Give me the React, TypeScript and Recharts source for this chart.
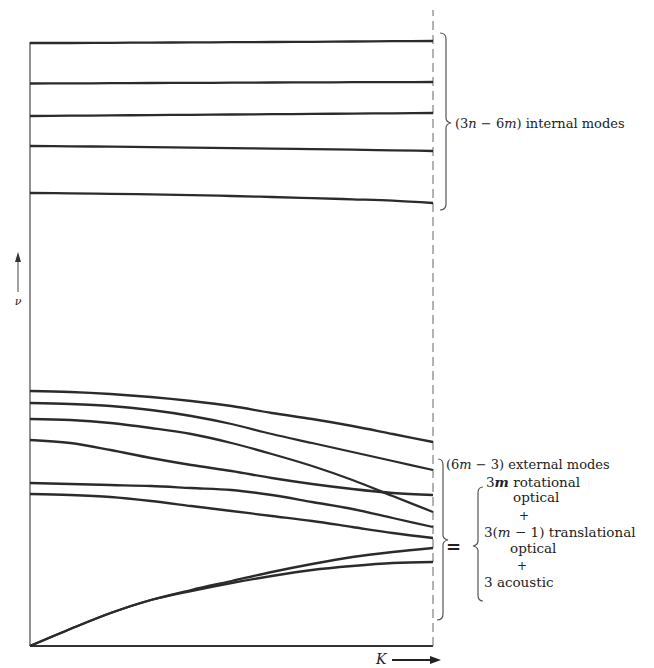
import React from 'react';
import { LineChart, Line, XAxis, YAxis, ReferenceLine } from 'recharts';

// wave vector K, from zone centre (0) to zone boundary (1)
const K = [0, 0.1, 0.2, 0.3, 0.4, 0.5, 0.6, 0.7, 0.8, 0.9, 1];

// internal modes (nearly flat)
const internal1 = [603, 603, 603.2, 603.4, 603.6, 603.8, 604, 604.2, 604.5, 604.8, 605];
const internal2 = [562.5, 562.6, 562.8, 563, 563.1, 563.3, 563.5, 563.6, 563.8, 563.9, 564];
const internal3 = [530, 530.3, 530.6, 530.9, 531.2, 531.5, 531.8, 532.1, 532.4, 532.7, 533];
const internal4 = [500, 499.7, 499.3, 498.9, 498.4, 497.9, 497.4, 496.9, 496.3, 495.7, 495];
const internal5 = [453, 452.7, 452.2, 451.6, 450.9, 450, 449, 447.9, 446.7, 445.4, 443];

// external optical modes
const optical1 = [255, 254, 252, 249, 245, 240, 233, 227, 220, 212, 204];
const optical2 = [243, 242, 240, 236, 230, 222, 212, 203, 194, 185, 176];
const optical3 = [227, 226, 223, 218, 212, 203, 192, 180, 166, 150, 134];
const optical4 = [206, 203, 196, 188, 181, 175, 168, 162, 157, 153, 151];
const optical5 = [163, 162, 161, 160, 158, 156, 151, 144, 137, 128, 119];
const optical6 = [152, 151, 149, 145, 140, 135, 130, 125, 119, 113, 108];

// acoustic branches
const acoustic1 = [0, 17, 33, 46, 56, 65, 74, 82, 89, 94, 98];
const acoustic2 = [0, 17, 33, 46, 55, 63, 70, 76, 80, 83, 84];

const series: [string, number[]][] = [
  ['i1', internal1], ['i2', internal2], ['i3', internal3], ['i4', internal4], ['i5', internal5],
  ['o1', optical1], ['o2', optical2], ['o3', optical3], ['o4', optical4], ['o5', optical5], ['o6', optical6],
  ['a1', acoustic1], ['a2', acoustic2],
];

const data = K.map((k, i) => {
  const row: Record<string, number> = { k };
  series.forEach(([key, vals]) => { row[key] = vals[i]; });
  return row;
});

const NU_MAX = 636;
const TOP_LINE = 604;

const INK = '#2b2b2b';
const serif = '"DejaVu Serif", "Liberation Serif", serif';

function Annotations() {
  return (
    <svg width={654} height={668} style={{ position: 'absolute', left: 0, top: 0, pointerEvents: 'none' }}>
      <g fill="none" stroke="#555" strokeWidth={1.2}>
        {/* brace round the internal modes */}
        <path d="M440 33 Q446 33 446 39 L446 118 Q446 122 451 123 Q446 124 446 128 L446 204 Q446 210 440 210" />
        {/* brace round the external modes */}
        <path d="M438 459 Q443 459 443 465 L443 535 Q443 539 448 540 Q443 541 443 545 L443 614 Q443 620 437 620" />
        {/* left brace of the breakdown */}
        <path d="M483 487 Q478 487 478 493 L478 541 Q478 545 473 546 Q478 547 478 551 L478 595 Q478 601 483 601" />
        {/* ν arrow */}
        <path d="M18 292 L18 258" strokeWidth={1.1} />
        {/* K arrow */}
        <path d="M392 660 L432 660" strokeWidth={2} stroke="#222" />
      </g>
      <path d="M18 252 L15 262 L21 262 Z" fill="#333" />
      <path d="M441 660 L430 656 L430 664 Z" fill="#222" />
      <g fontFamily={serif} fill="#222" fontSize={13}>
        <text x={455} y={128}>(3<tspan fontStyle="italic">n</tspan> − 6<tspan fontStyle="italic">m</tspan>) internal modes</text>
        <text x={446} y={469}>(6<tspan fontStyle="italic">m</tspan> − 3) external modes</text>
        <text x={446} y={553} fontSize={18} fontWeight="bold">=</text>
        <g fontSize={13.5}>
          <text x={486} y={487}>3<tspan fontStyle="italic" fontWeight="bold">m</tspan> rotational</text>
          <text x={513} y={502}>optical</text>
          <text x={524} y={520} textAnchor="middle" fontSize={12}>+</text>
          <text x={484} y={537}>3(<tspan fontStyle="italic">m</tspan> − 1) translational</text>
          <text x={510} y={553}>optical</text>
          <text x={522} y={570} textAnchor="middle" fontSize={12}>+</text>
          <text x={484} y={587}>3 acoustic</text>
        </g>
        <text x={376} y={664} fontStyle="italic" fontSize={14}>K</text>
        <text x={18} y={305} fontStyle="italic" fontSize={11} textAnchor="middle">ν</text>
      </g>
    </svg>
  );
}

export default function App() {
  return (
    <div style={{ position: 'absolute', left: 0, top: 0, width: 654, height: 668, background: '#fff' }}>
      <LineChart width={654} height={668} data={data} margin={{ top: 10, right: 221, bottom: 22, left: 30 }}>
        <XAxis type="number" dataKey="k" domain={[0, 1]} hide />
        <YAxis type="number" domain={[0, NU_MAX]} hide />
        <ReferenceLine segment={[{ x: 0, y: 0 }, { x: 0, y: TOP_LINE }]} stroke="#555" strokeWidth={1.3} />
        <ReferenceLine y={0} stroke="#333" strokeWidth={1.8} />
        <ReferenceLine x={1} stroke="#666" strokeWidth={1} strokeDasharray="9 5" />
        {series.map(([key]) => (
          <Line
            key={key}
            dataKey={key}
            type="monotone"
            stroke={INK}
            strokeWidth={2.3}
            dot={false}
            activeDot={false}
            isAnimationActive={false}
          />
        ))}
      </LineChart>
      <Annotations />
    </div>
  );
}
